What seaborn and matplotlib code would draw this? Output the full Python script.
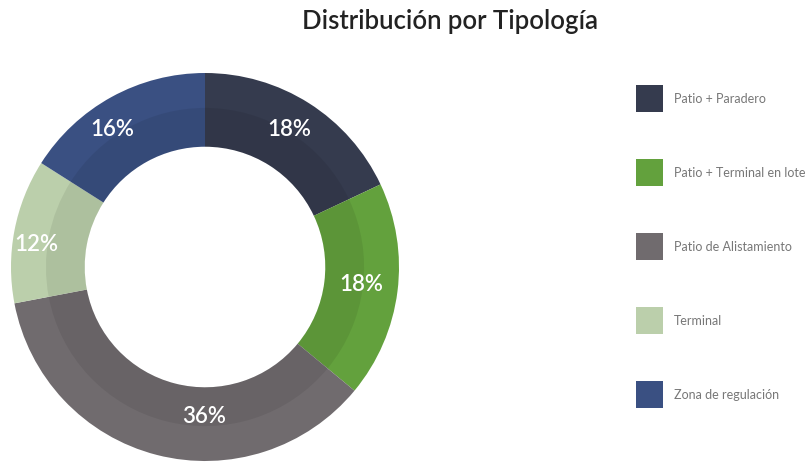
import matplotlib
matplotlib.use("Agg")
import matplotlib.pyplot as plt
import seaborn as sns
import numpy as np
from matplotlib.patches import Patch

# data
categorias = ["Patio + Paradero", "Patio + Terminal en lote", "Patio de Alistamiento",
              "Terminal", "Zona de regulación"]
porcentajes = [18, 18, 36, 12, 16]
colores = ["#353b4e", "#63a13d", "#706b6e", "#bbcfab", "#3a5082"]

sns.set_theme(style="white")
plt.rcParams["font.family"] = ["Lato", "DejaVu Sans"]

W, H = 807, 464
fig = plt.figure(figsize=(W / 100, H / 100), dpi=100)
fig.patch.set_facecolor("white")

# donut axes: centre (205, 268), outer radius 194 px
cx, cy, r = 205, 268, 194
ax = fig.add_axes([(cx - r) / W, (H - cy - r) / H, 2 * r / W, 2 * r / H])

wedges, _ = ax.pie(
    porcentajes, colors=colores, startangle=90, counterclock=False,
    radius=1.0, wedgeprops=dict(width=0.38, edgecolor="none"),
)

# inner darker band
ax.pie(porcentajes, colors=["black"] * len(porcentajes), startangle=90,
       counterclock=False, radius=0.82,
       wedgeprops=dict(width=0.2, edgecolor="none", alpha=0.07))

# percentage labels (slight nudges like the original renderer)
ajuste_ang = [1, 1, 14, 3, 5]
ajuste_rad = [0.835, 0.81, 0.765, 0.88, 0.86]
for w, p, da, rr in zip(wedges, porcentajes, ajuste_ang, ajuste_rad):
    ang = np.deg2rad((w.theta1 + w.theta2) / 2 + da)
    ax.text(rr * np.cos(ang), rr * np.sin(ang), f"{p}%", ha="center", va="center",
            color="white", fontsize=16, fontweight="semibold", zorder=5)

ax.set_xlim(-1, 1)
ax.set_ylim(-1, 1)
ax.set_aspect("equal")
ax.axis("off")

fig.text(450 / W, 1 - 22 / H, "Distribución por Tipología", ha="center", va="center",
         fontsize=18.5, fontweight="semibold", color="#222222")

# legend
fs = 9
handles = [Patch(facecolor=c, edgecolor="none") for c in colores]
leg = fig.legend(handles, categorias, loc="upper left",
                 bbox_to_anchor=(636 / W, 1 - 86 / H), frameon=False,
                 borderpad=0, borderaxespad=0,
                 handlelength=2.16, handleheight=2.95, labelspacing=3.75,
                 handletextpad=0.9, fontsize=fs)
for t in leg.get_texts():
    t.set_color("#777777")

plt.savefig("out.png", dpi=100)
